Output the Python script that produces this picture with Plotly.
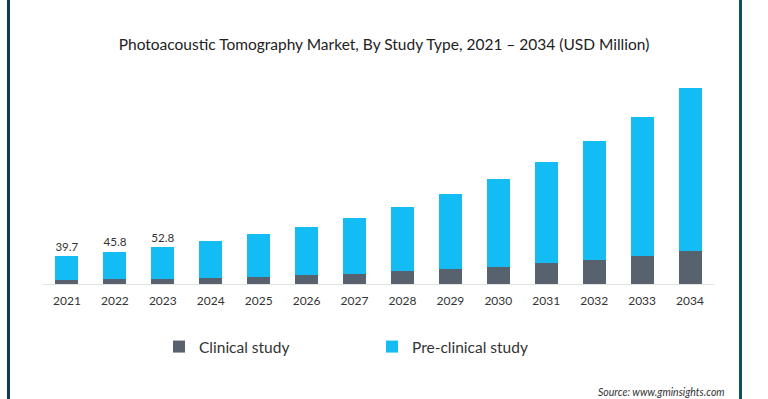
import plotly.graph_objects as go

years = [str(y) for y in range(2021, 2035)]
clinical = [5.7, 6.7, 7.6, 9.0, 10.5, 12.9, 14.4, 18.2, 21.5, 24.8, 30.6, 34.9, 40.6, 47.8]
totals = [39.7, 45.8, 52.8, 61.3, 71.3, 82.5, 95.1, 110.9, 129.2, 150.7, 175.5, 205.2, 240.1, 280.8]
preclinical = [round(t - c, 1) for t, c in zip(totals, clinical)]
labels = ["39.7", "45.8", "52.8"] + [""] * 11

W, H = 768, 399
ML, MR, MT, MB = 43, 54, 80, 115
PW, PH = W - ML - MR, H - MT - MB
YMAX = PH * 1.435

def px_x(px):
    return (px - ML) / PW

def px_y(py):
    return (H - MB - py) / PH

FONT = "Lato"
fig = go.Figure()
fig.add_trace(go.Bar(x=years, y=clinical, name="Clinical study",
                     marker=dict(color="#58626f", line=dict(width=0))))
fig.add_trace(go.Bar(x=years, y=preclinical, name="Pre-clinical study",
                     marker=dict(color="#13bdf4", line=dict(width=0)),
                     text=labels, textposition="outside", cliponaxis=False,
                     textfont=dict(size=13, color="#333333", family=FONT),
                     hoverinfo="skip"))

fig.update_layout(
    width=W, height=H, barmode="stack", bargap=0.52,
    margin=dict(l=ML, r=MR, t=MT, b=MB),
    paper_bgcolor="white", plot_bgcolor="white",
    font=dict(family=FONT, color="#333333"),
    title=dict(text="Photoacoustic Tomography Market, By Study Type, 2021 – 2034 (USD Million)",
               x=0.5, xanchor="center", y=1 - 45 / H, yanchor="middle",
               font=dict(size=15.5, color="#222222", family=FONT)),
    xaxis=dict(showline=True, linecolor="#e2e2e2", linewidth=1, ticks="",
               ticklabelstandoff=6,
               tickfont=dict(size=12, color="#333333", family=FONT), showgrid=False),
    yaxis=dict(range=[0, YMAX], visible=False, showgrid=False),
    legend=dict(orientation="h", x=px_x(159), xanchor="left", y=px_y(347), yanchor="middle",
                entrywidth=168, entrywidthmode="pixels",
                font=dict(size=15.5, color="#333333", family=FONT), traceorder="normal"),
    showlegend=True,
)

fig.add_annotation(text="<i>Source: www.gminsights.com</i>", xref="paper", yref="paper",
                   x=px_x(727), y=px_y(392), xanchor="right", yanchor="middle",
                   showarrow=False, font=dict(size=10.5, color="#333333", family=FONT))

fig.add_shape(type="line", xref="paper", yref="paper", x0=px_x(8.5), x1=px_x(8.5),
              y0=px_y(-5), y1=px_y(H + 5), line=dict(color="#0b3b56", width=3))
fig.add_shape(type="line", xref="paper", yref="paper", x0=px_x(740.5), x1=px_x(740.5),
              y0=px_y(-5), y1=px_y(H + 5), line=dict(color="#0e5066", width=3))

fig.write_html("out.html", config={"displayModeBar": False},
               post_script="document.body.style.margin='0';document.body.style.overflow='hidden';")
